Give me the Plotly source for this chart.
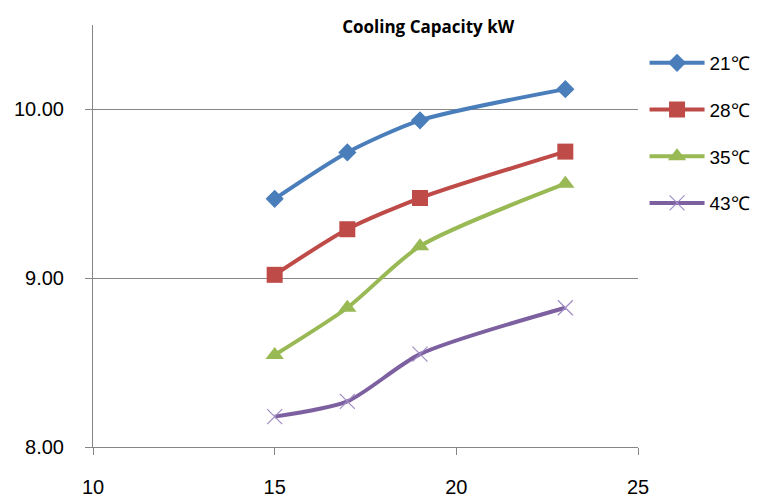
import plotly.graph_objects as go

x_vals = [15, 17, 19, 23]
series_names = ["21℃", "28℃", "35℃", "43℃"]
s21 = [9.47, 9.745, 9.935, 10.12]
s28 = [9.02, 9.29, 9.475, 9.75]
s35 = [8.545, 8.825, 9.19, 9.56]
s43 = [8.18, 8.27, 8.55, 8.825]
x_ticks = [10, 15, 20, 25]
y_ticks = [8.0, 9.0, 10.0]
y_tick_labels = ["8.00", "9.00", "10.00"]

colors = ["#4a7ebb", "#be4b48", "#98b954", "#7d60a0"]
symbols = ["diamond", "square", "triangle-up", "x-thin-open"]
sizes = [14, 16, 16, 15]

fig = go.Figure()
for i, (name, ys) in enumerate(zip(series_names, [s21, s28, s35, s43])):
    marker = dict(symbol=symbols[i], size=sizes[i], color=colors[i])
    if symbols[i] == "x-thin-open":
        marker = dict(symbol="x-thin-open", size=sizes[i], color="#a08cc4",
                      line=dict(width=1.2, color="#a08cc4"))
    fig.add_trace(go.Scatter(
        x=x_vals, y=ys, name=name, mode="lines+markers",
        line=dict(color=colors[i], width=4, shape="spline", smoothing=0.7),
        marker=marker, legendgroup=name,
    ))

fig.update_layout(
    width=763, height=500,
    margin=dict(l=85, r=133, t=17, b=61),
    paper_bgcolor="white", plot_bgcolor="white",
    font=dict(family="Liberation Sans, Arial, sans-serif", size=20, color="#000000"),
    title=dict(text="<b>Cooling Capacity kW</b>", x=0.615, xanchor="center",
               xref="paper", y=0.962, yanchor="middle", yref="container",
               font=dict(size=17, family="Open Sans, sans-serif"),
               automargin=False),
    legend=dict(x=1.012, y=0.955, xanchor="left", yanchor="top",
                font=dict(size=19), tracegroupgap=19, traceorder="grouped",
                itemwidth=55, bgcolor="rgba(0,0,0,0)"),
    xaxis=dict(range=[10, 25], tickvals=x_ticks, showgrid=False,
               showline=True, linecolor="#868686", linewidth=1,
               ticks="outside", ticklen=7, tickcolor="#868686",
               zeroline=False, tickfont=dict(size=20), ticklabelstandoff=15,
               automargin=False),
    yaxis=dict(range=[8, 10.5], tickvals=y_ticks, ticktext=y_tick_labels,
               showgrid=True, gridcolor="#878787", gridwidth=1,
               showline=True, linecolor="#868686", linewidth=1,
               ticks="outside", ticklen=7, tickcolor="#868686",
               zeroline=False, tickfont=dict(size=20), ticklabelstandoff=17,
               automargin=False),
)

fig.write_html("out.html")
